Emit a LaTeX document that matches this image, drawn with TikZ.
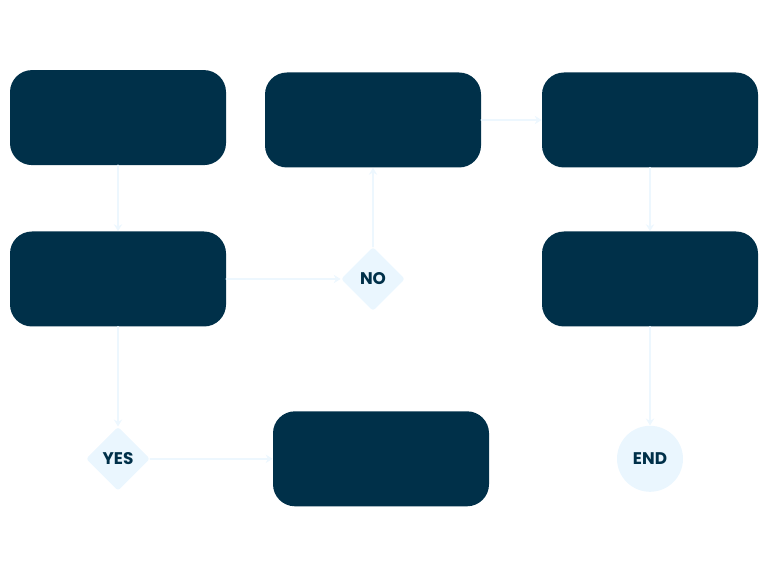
\documentclass[tikz,border=0pt]{standalone}
\usepackage{fontspec}
\setmainfont{Poppins}
\usetikzlibrary{arrows.meta, shapes.geometric}
\definecolor{flow-ink}{HTML}{003049}
\definecolor{flow-soft}{HTML}{EAF6FE}
\definecolor{flow-line}{HTML}{EDF7FE}

\begin{document}
\begin{tikzpicture}[>={Stealth[length=5pt,width=6pt]}, line cap=round, line join=round,
  stepbox/.style={fill=flow-ink, draw=none, rounded corners=0.55cm,
    minimum width=5.4cm, minimum height=2.375cm},
  choice/.style={diamond, fill=flow-soft, draw=none, rounded corners=2pt,
    minimum size=1.6cm, inner sep=0pt, text=flow-ink, font=\bfseries\large},
  stopper/.style={circle, fill=flow-soft, draw=none, minimum size=1.65cm,
    inner sep=0pt, text=flow-ink, font=\bfseries\large},
  link/.style={->, flow-line, line width=1.3pt}]
  \useasboundingbox (0,0) rectangle (19.2,14.4);
  % bokse
  \node[stepbox] (first) at (2.95,11.46) {};
  \node[stepbox] (second) at (9.325,11.4) {};
  \node[stepbox] (third) at (16.25,11.4) {};
  \node[stepbox] (left) at (2.95,7.425) {};
  \node[stepbox] (right) at (16.25,7.425) {};
  \node[stepbox] (bottom) at (9.525,2.93) {};
  % valg og slut
  \node[choice] (no) at (9.325,7.425) {NO};
  \node[choice] (yes) at (2.95,2.93) {YES};
  \node[stopper] (end) at (16.25,2.93) {END};
  % forbindelser
  \draw[link] (first) -- (left);
  \draw[link] (no) -- (second);
  \draw[link] (left) -- (no);
  \draw[link] (second) -- (third);
  \draw[link] (third) -- (right);
  \draw[link] (right) -- (end);
  \draw[link] (left) -- (yes);
  \draw[link] (yes) -- (bottom);
\end{tikzpicture}
\end{document}
